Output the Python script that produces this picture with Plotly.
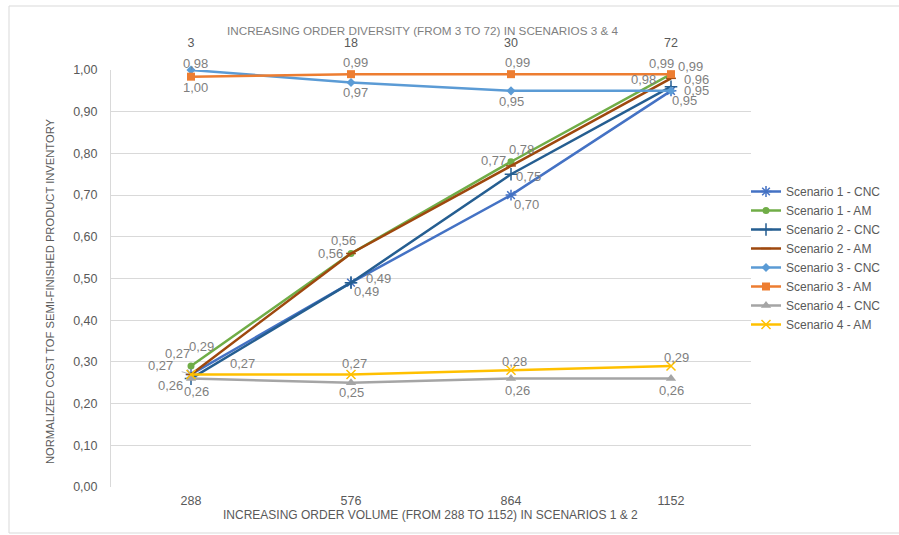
import plotly.graph_objects as go

# Category axes
volume = ["288", "576", "864", "1152"]
diversity = ["3", "18", "30", "72"]

# Normalized cost of semi-finished product inventory
s1_cnc = [0.27, 0.49, 0.70, 0.95]
s1_am = [0.29, 0.56, 0.78, 0.99]
s2_cnc = [0.26, 0.49, 0.75, 0.96]
s2_am = [0.27, 0.56, 0.77, 0.98]
s3_cnc = [1.00, 0.97, 0.95, 0.95]
s3_am = [0.984, 0.99, 0.99, 0.99]
s4_cnc = [0.26, 0.25, 0.26, 0.26]
s4_am = [0.27, 0.27, 0.28, 0.29]

y_ticks = [round(i * 0.1, 1) for i in range(11)]

FONT = "Liberation Sans"
LABEL_COLOR = "#7f7f7f"
TICK_COLOR = "#595959"

# plot area in pixels (left, right, top, bottom) and figure size
L, R, T, B = 111, 751, 70, 487
W, H = 899, 535


def px(x):
    return (x - L) / (R - L)


def py(y):
    return (B - y) / (B - T)


# off: data-label offsets in px (dx right, dy up); lead: draw a leader line
series = [
    dict(name="Scenario 1 - CNC", y=s1_cnc, axis="x", color="#4472C4",
         symbol="asterisk-open", size=9,
         off=[(-31, 9), (15, -9), (15, -9), (13, -10)], lead=[True, False, False, False]),
    dict(name="Scenario 1 - AM", y=s1_am, axis="x", color="#70AD47",
         symbol="circle", size=7,
         off=[(10, 20), (-8, 13), (10, 12), (19, 8)], lead=[False] * 4),
    dict(name="Scenario 2 - CNC", y=s2_cnc, axis="x", color="#255E91",
         symbol="cross-thin-open", size=9,
         off=[(-21, -7), (27, 4), (17, -2), (25, 7)], lead=[False] * 4),
    dict(name="Scenario 2 - AM", y=s2_am, axis="x", color="#9E480E",
         symbol="line-ew-open", size=7,
         off=[(-14, 21), (-21, 0), (-18, 5), (-28, -1)], lead=[True, False, False, False]),
    dict(name="Scenario 3 - CNC", y=s3_cnc, axis="x2", color="#5B9BD5",
         symbol="diamond", size=7,
         off=[(4, -17), (4, -10), (0, -11), (25, 0)], lead=[False] * 4),
    dict(name="Scenario 3 - AM", y=s3_am, axis="x2", color="#ED7D31",
         symbol="square", size=8,
         off=[(4, 13), (4, 12), (6, 12), (-10, 11)], lead=[False] * 4),
    dict(name="Scenario 4 - CNC", y=s4_cnc, axis="x2", color="#A5A5A5",
         symbol="triangle-up", size=9,
         off=[(5, -13), (0, -10), (6, -12), (0, -12)], lead=[False] * 4),
    dict(name="Scenario 4 - AM", y=s4_am, axis="x2", color="#FFC000",
         symbol="x-thin-open", size=9,
         off=[(51, 11), (3, 11), (3, 9), (5, 9)], lead=[False] * 4),
]

fig = go.Figure()
annotations = []
for s in series:
    cats = volume if s["axis"] == "x" else diversity
    open_sym = s["symbol"].endswith("-open")
    fig.add_trace(go.Scatter(
        x=cats, y=s["y"], name=s["name"], xaxis=s["axis"], yaxis="y",
        mode="lines+markers",
        line=dict(color=s["color"], width=2.5),
        marker=dict(symbol=s["symbol"], size=s["size"], color=s["color"],
                    line=dict(color=s["color"], width=1.5 if open_sym else 0)),
        cliponaxis=False,
    ))
    # data labels with a comma decimal separator, placed at the category index
    for i, (v, (dx, dy), lead) in enumerate(zip(s["y"], s["off"], s["lead"])):
        label = f"{v:.2f}".replace(".", ",")
        ann = dict(x=i, y=v, xref=s["axis"], yref="y", text=label,
                   font=dict(family=FONT, size=13, color=LABEL_COLOR))
        if lead:
            ann.update(showarrow=True, ax=dx, ay=-dy, axref="pixel", ayref="pixel",
                       arrowhead=0, arrowwidth=0.8, arrowcolor="#a6a6a6",
                       standoff=2, startstandoff=8)
        else:
            ann.update(showarrow=False, xshift=dx, yshift=dy)
        annotations.append(ann)

cat_axis = dict(type="category", range=[-0.5, 3.5], showgrid=False,
                zeroline=False, showline=False, ticks="",
                tickfont=dict(family=FONT, size=12.5, color=TICK_COLOR))

annotations += [
    dict(text="INCREASING ORDER DIVERSITY (FROM 3 TO 72) IN SCENARIOS 3 & 4",
         x=px(422), y=py(22), xref="paper", yref="paper",
         showarrow=False, font=dict(family=FONT, size=11.7, color="#7f7f7f")),
    dict(text="INCREASING ORDER VOLUME (FROM 288 TO 1152) IN SCENARIOS 1 & 2",
         x=px(430), y=py(524), xref="paper", yref="paper",
         showarrow=False, font=dict(family=FONT, size=12, color=TICK_COLOR)),
    dict(text="NORMALIZED COST TOF SEMI-FINISHED PRODUCT INVENTORY",
         x=px(42), y=py(291), xref="paper", yref="paper", textangle=-90,
         showarrow=False, font=dict(family=FONT, size=11.2, color=TICK_COLOR)),
]

fig.update_layout(
    width=W, height=H,
    margin=dict(l=L, r=W - R, t=T, b=H - B, pad=0),
    paper_bgcolor="white", plot_bgcolor="white",
    separators=",.",
    showlegend=True,
    legend=dict(x=px(746), y=py(177), xanchor="left", yanchor="top",
                font=dict(family=FONT, size=12, color=TICK_COLOR),
                bgcolor="rgba(0,0,0,0)", tracegroupgap=0),
    xaxis=dict(**cat_axis, categoryarray=volume, side="bottom",
               ticklabelstandoff=4),
    xaxis2=dict(**cat_axis, categoryarray=diversity, side="top",
                overlaying="x", ticklabelstandoff=20),
    yaxis=dict(range=[0, 1.0], tickvals=y_ticks, tickformat=".2f",
               showgrid=True, gridcolor="#d9d9d9", gridwidth=1,
               zeroline=False, showline=True, linecolor="#d9d9d9",
               linewidth=1, ticks="", ticklabelstandoff=10,
               tickfont=dict(family=FONT, size=12.5, color=TICK_COLOR)),
    annotations=annotations,
    shapes=[
        dict(type="rect", xref="paper", yref="paper",
             x0=px(9), x1=px(905), y0=py(533), y1=py(6),
             line=dict(color="#d9d9d9", width=1), layer="below"),
    ],
)

fig.write_html("out.html")
